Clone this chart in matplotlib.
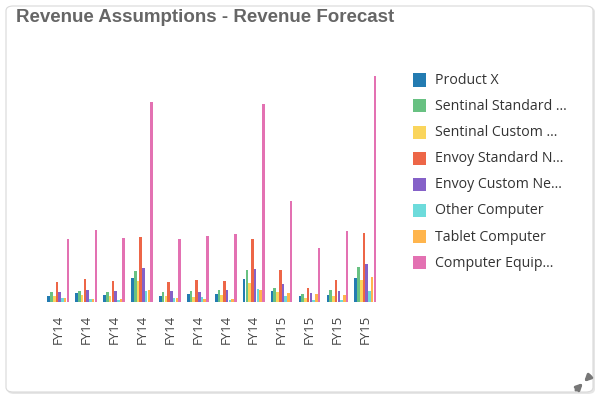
import matplotlib
matplotlib.use("Agg")
import matplotlib.pyplot as plt
from matplotlib.patches import FancyBboxPatch, Rectangle, FancyArrowPatch
import numpy as np

categories = ["FY14"] * 8 + ["FY15"] * 4
series_names = ["Product X", "Sentinal Standard ...", "Sentinal Custom ...",
                "Envoy Standard N...", "Envoy Custom Ne...", "Other Computer",
                "Tablet Computer", "Computer Equip..."]
colors = ["#237bb1", "#68c182", "#fad55c", "#ed6647", "#8561c8", "#6ddbdb",
          "#ffb54d", "#e371b2"]

product_x      = [6, 9, 7, 24, 6, 8, 8, 23, 10.7, 6, 7, 24]
sentinal_std   = [10, 11, 10, 31.5, 10, 11, 11.7, 32, 13.7, 8.3, 12, 34.7]
sentinal_cust  = [6, 7, 6, 21, 6, 5, 7.5, 18.7, 10, 3.7, 6, 22]
envoy_std      = [20, 23, 21, 65, 20, 22, 20.7, 63, 32, 14, 22, 68.7]
envoy_cust     = [10, 12, 11, 34, 11, 10, 12, 33, 17.7, 9, 11, 38.3]
other_computer = [4, 3.5, 2, 11, 4.5, 5.5, 2.5, 13, 6, 2, 2, 11]
tablet         = [4, 3, 3, 12, 4, 3, 3, 12, 9, 8, 7, 25]
computer_equip = [63, 72, 64, 200.5, 63, 66.5, 67.7, 198, 101, 53.7, 70.7, 226]

series = [product_x, sentinal_std, sentinal_cust, envoy_std, envoy_cust,
          other_computer, tablet, computer_equip]

W, H = 600, 399
fig = plt.figure(figsize=(W / 100, H / 100), dpi=100)
fig.patch.set_facecolor("white")

# card background with shadow
shadow = FancyBboxPatch((7 / W, 5 / H), 588 / W, 387 / H,
                        boxstyle="round,pad=0,rounding_size=0.012",
                        transform=fig.transFigure, facecolor="#e6e6e6",
                        edgecolor="none", zorder=-2)
card = FancyBboxPatch((6 / W, 7 / H), 587 / W, 386 / H,
                      boxstyle="round,pad=0,rounding_size=0.012",
                      transform=fig.transFigure, facecolor="white",
                      edgecolor="#d9d9d9", linewidth=0.8, zorder=-1)
fig.patches.extend([shadow, card])

fig.text(16 / W, 1 - 18 / H, "Revenue Assumptions - Revenue Forecast",
         fontsize=13.5, fontweight="bold", color="#666666",
         family="Liberation Sans", va="center", ha="left")

left, right, top, base = 44.4, 379.3, 60, 302
ax = fig.add_axes([left / W, 1 - base / H, (right - left) / W, (base - top) / H])
ax.set_facecolor("none")
ax.set_zorder(2)

n = len(categories)
x = np.arange(n)
nb = len(series)
bw = 0.098
for i, (vals, c, name) in enumerate(zip(series, colors, series_names)):
    offs = (i - (nb - 1) / 2) * bw
    ax.bar(x + offs, vals, width=bw * 0.95, color=c, label=name, linewidth=0)

ax.set_xlim(-0.5, n - 0.5)
ax.set_ylim(0, 242)
for s in ax.spines.values():
    s.set_visible(False)
ax.set_yticks([])
ax.set_xticks(x)
ax.set_xticklabels(categories, rotation=90, fontsize=9.5, color="#444444",
                   family="Open Sans")
ax.tick_params(axis="x", length=0, pad=9)

# legend
rows = [80, 105.7, 132, 158.3, 184.3, 210.3, 236.7, 262.7]
for y, c, name in zip(rows, colors, series_names):
    fig.patches.append(Rectangle((413 / W, 1 - (y + 6.5) / H), 13 / W, 13 / H,
                                 transform=fig.transFigure, facecolor=c,
                                 edgecolor="none"))
    fig.text(435 / W, 1 - (y + 0.5) / H, name, fontsize=10.2, color="#333333",
             family="Open Sans", va="center", ha="left")

# compress icon
for (x0, y0, x1, y1) in [(576, 390, 583, 383), (590, 376, 584, 382)]:
    fig.add_artist(FancyArrowPatch(
        (x0 / W, 1 - y0 / H), (x1 / W, 1 - y1 / H), transform=fig.transFigure,
        arrowstyle="-|>", color="#777777", linewidth=2.2,
        mutation_scale=9, shrinkA=0, shrinkB=0))

fig.savefig("out.png", dpi=100, facecolor="white")
